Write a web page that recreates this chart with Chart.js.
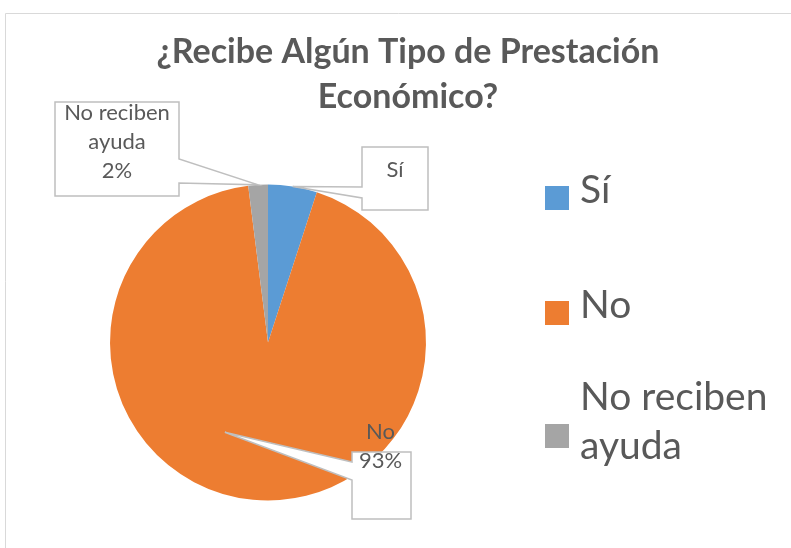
<!DOCTYPE html>
<html>
<head>
<meta charset="utf-8">
<script src="https://cdn.jsdelivr.net/npm/chart.js@4/dist/chart.umd.min.js"></script>
<style>
  html, body { margin: 0; padding: 0; background: #fff; }
  canvas { display: block; }
</style>
</head>
<body>
<canvas id="pieChart" width="791" height="548"></canvas>
<script>
// Chart data
const categories = ['Sí', 'No', 'No reciben ayuda'];
const values = [5, 93, 2];
const sliceColors = ['#5B9BD5', '#ED7D31', '#A5A5A5'];
const legendLines = [['Sí'], ['No'], ['No reciben', 'ayuda']];
const titleLines = ['¿Recibe Algún Tipo de Prestación', 'Económico?'];

const textColor = '#595959';
const fontName = 'Lato, "Open Sans", sans-serif';

// Callout boxes for the data labels (box, side of the pointer, pointer base, tip)
const callouts = [
    { index: 0, box: [362, 147, 66, 63], side: 'left', base: [187, 198], tipOffset: 0, tipRadius: 1.0,
      lines: ['Sí'], textY: 170 },
    { index: 1, box: [352, 452, 59, 67], side: 'left', base: [462, 480], tipOffset: 20.3, tipRadius: 0.63,
      lines: ['No', '%'], textY: 432 },
    { index: 2, box: [55, 102, 124, 94], side: 'right', base: [159, 183], tipOffset: 0, tipRadius: 1.0,
      lines: ['No reciben', 'ayuda', '%'], textY: 113 }
];

const total = values.reduce((a, b) => a + b, 0);

const decorPlugin = {
    id: 'decor',
    beforeDraw(chart) {
        const ctx = chart.ctx;
        ctx.save();
        // outer chart border (top and left visible)
        ctx.strokeStyle = '#D9D9D9';
        ctx.lineWidth = 1;
        ctx.beginPath();
        ctx.moveTo(5.5, 560);
        ctx.lineTo(5.5, 13.5);
        ctx.lineTo(800, 13.5);
        ctx.stroke();

        // title
        ctx.fillStyle = textColor;
        ctx.font = 'bold 34px ' + fontName;
        ctx.textAlign = 'center';
        ctx.textBaseline = 'middle';
        ctx.fillText(titleLines[0], 408, 52);
        ctx.fillText(titleLines[1], 408, 97);

        // legend
        const legendY = [[190], [305], [397, 446]];
        const squareY = [186, 301, 424];
        ctx.textAlign = 'left';
        ctx.font = '39px ' + fontName;
        categories.forEach((c, i) => {
            ctx.fillStyle = sliceColors[i];
            ctx.fillRect(545, squareY[i], 24, 24);
            ctx.fillStyle = textColor;
            legendLines[i].forEach((line, j) => {
                ctx.fillText(line, 580, legendY[i][j]);
            });
        });
        ctx.restore();
    },
    afterDatasetsDraw(chart) {
        const ctx = chart.ctx;
        const meta = chart.getDatasetMeta(0);
        ctx.save();
        callouts.forEach(co => {
            const arc = meta.data[co.index];
            const mid = (arc.startAngle + arc.endAngle) / 2 + co.tipOffset * Math.PI / 180;
            const tx = arc.x + Math.cos(mid) * arc.outerRadius * co.tipRadius;
            const ty = arc.y + Math.sin(mid) * arc.outerRadius * co.tipRadius;
            const [x, y, w, h] = co.box;
            ctx.beginPath();
            if (co.side === 'left') {
                ctx.moveTo(x, y);
                ctx.lineTo(x + w, y);
                ctx.lineTo(x + w, y + h);
                ctx.lineTo(x, y + h);
                ctx.lineTo(x, co.base[1]);
                ctx.lineTo(tx, ty);
                ctx.lineTo(x, co.base[0]);
            } else {
                ctx.moveTo(x, y);
                ctx.lineTo(x + w, y);
                ctx.lineTo(x + w, co.base[0]);
                ctx.lineTo(tx, ty);
                ctx.lineTo(x + w, co.base[1]);
                ctx.lineTo(x + w, y + h);
                ctx.lineTo(x, y + h);
            }
            ctx.closePath();
            ctx.fillStyle = '#ffffff';
            ctx.fill();
            ctx.strokeStyle = '#BFBFBF';
            ctx.lineWidth = 1.5;
            ctx.stroke();

            // label text
            ctx.fillStyle = textColor;
            ctx.font = '22px ' + fontName;
            ctx.textAlign = 'center';
            ctx.textBaseline = 'middle';
            const pct = Math.round(values[co.index] / total * 100) + '%';
            co.lines.forEach((line, j) => {
                const txt = line === '%' ? pct : line;
                ctx.fillText(txt, x + w / 2 + (co.index === 1 ? -1 : 0), co.textY + j * 29);
            });
        });
        ctx.restore();
    }
};

const ctx = document.getElementById('pieChart').getContext('2d');
new Chart(ctx, {
    type: 'pie',
    data: {
        labels: categories,
        datasets: [{
            data: values,
            backgroundColor: sliceColors,
            borderWidth: 0
        }]
    },
    options: {
        responsive: false,
        animation: false,
        layout: {
            padding: { left: 110, right: 365, top: 184, bottom: 47 }
        },
        plugins: {
            legend: { display: false },
            title: { display: false },
            tooltip: { enabled: false }
        }
    },
    plugins: [decorPlugin]
});
</script>
</body>
</html>
